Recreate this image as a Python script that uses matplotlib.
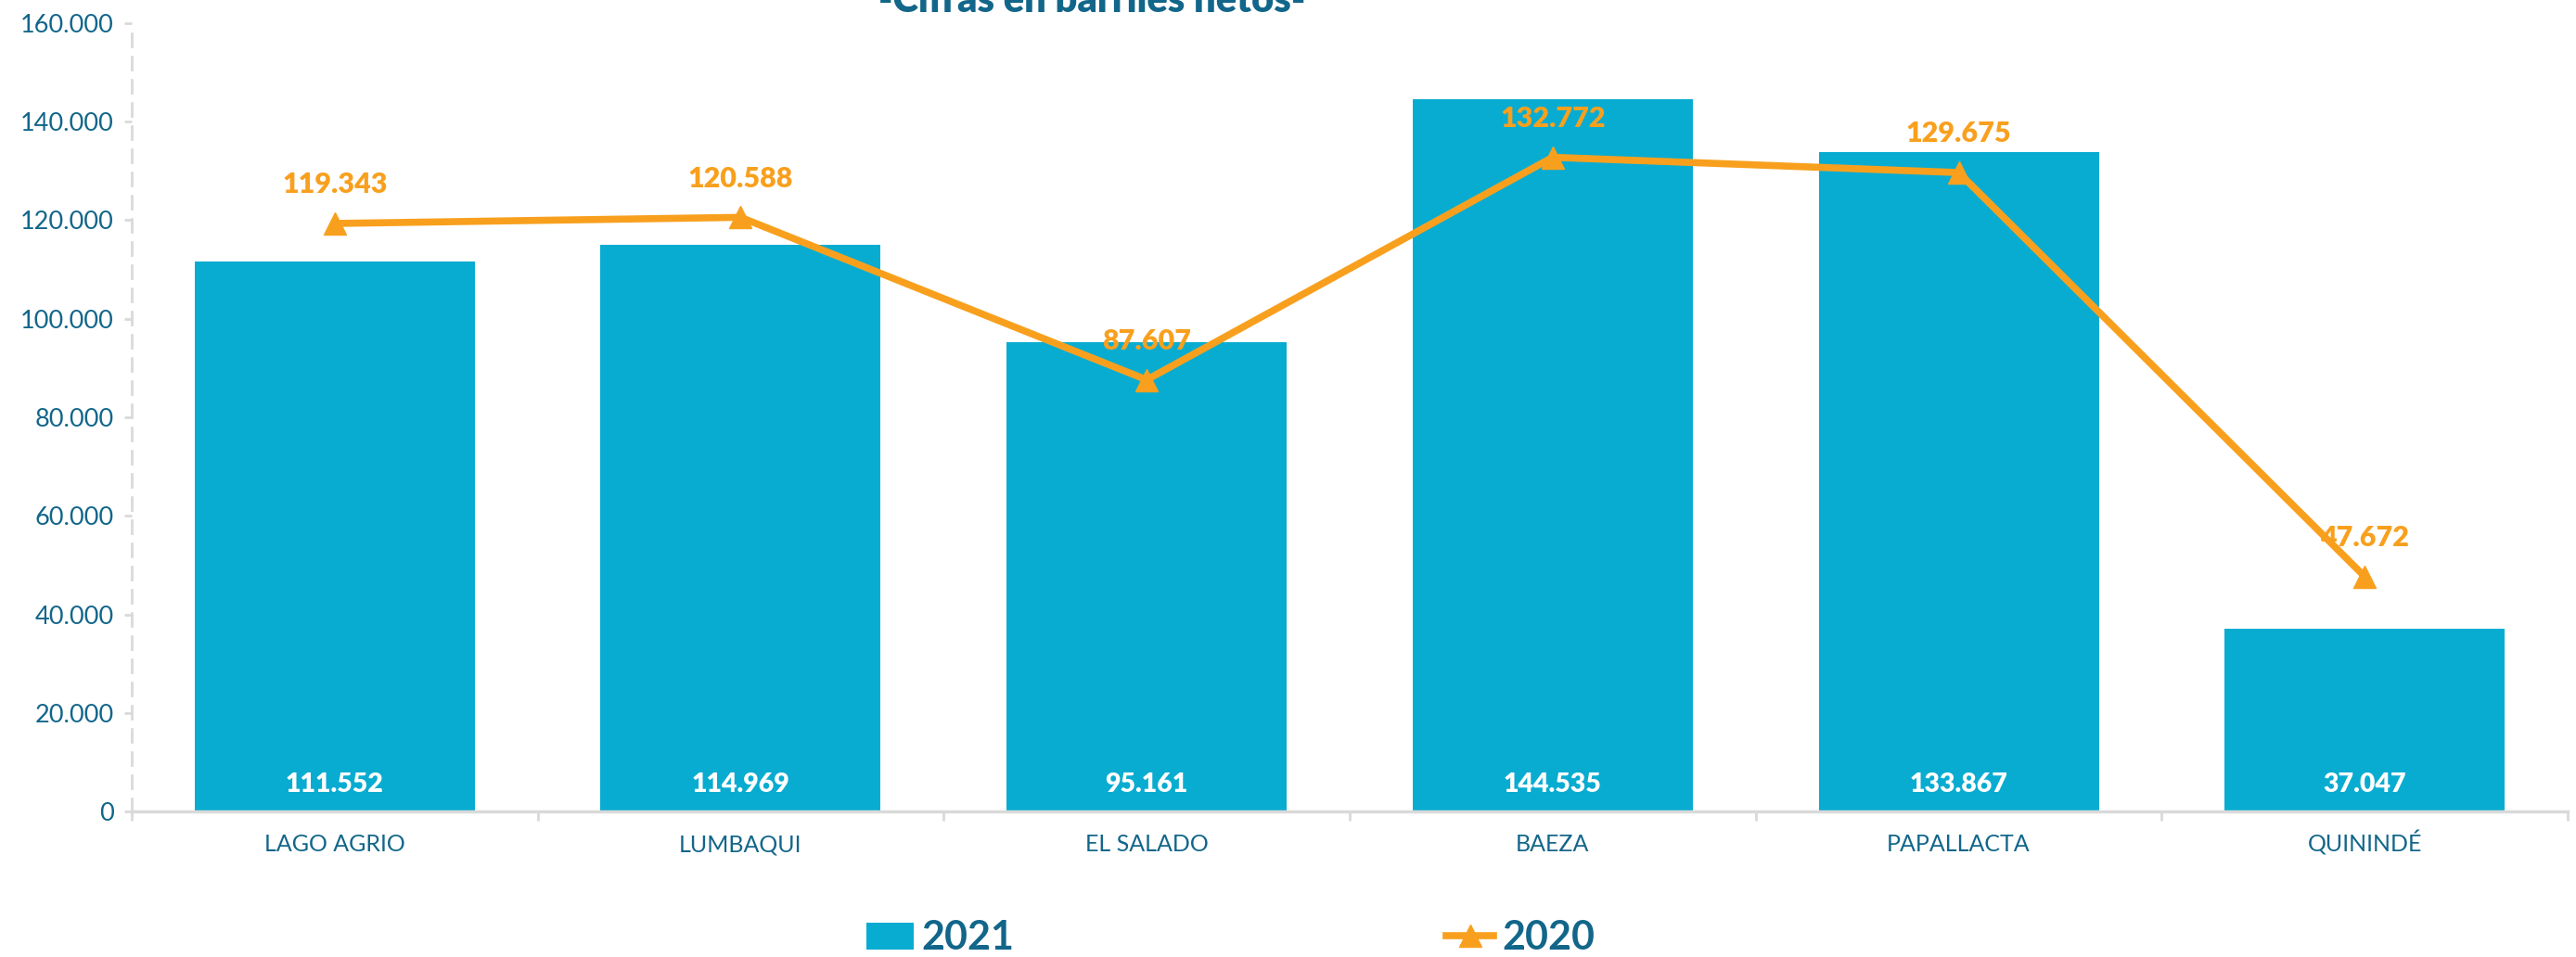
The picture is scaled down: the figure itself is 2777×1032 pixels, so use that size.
import matplotlib.pyplot as plt
from matplotlib.patches import Patch
from matplotlib.lines import Line2D
from matplotlib.ticker import FuncFormatter

categorias = ["LAGO AGRIO", "LUMBAQUI", "EL SALADO", "BAEZA", "PAPALLACTA", "QUININDÉ"]
v2021 = [111552, 114969, 95161, 144535, 133867, 37047]
v2020 = [119343, 120588, 87607, 132772, 129675, 47672]
titulo = "-Cifras en barriles netos-"

azul = "#09ACD1"
naranja = "#F8A01E"
texto = "#12668A"
gris = "#D9D9D9"

plt.rcParams['font.family'] = ['Lato', 'DejaVu Sans']


def miles(v, pos=None):
    return f"{int(round(v)):,}".replace(",", ".")


fig = plt.figure(figsize=(27.77, 10.32), dpi=100)
ax = fig.add_axes([0.0511, 0.1521, 0.9457, 0.8237])

x = list(range(len(categorias)))
ax.bar(x, v2021, width=0.69, color=azul, zorder=2)
ax.plot(x, v2020, color=naranja, linewidth=5.5, marker='^', markersize=17,
        markerfacecolor=naranja, markeredgecolor=naranja, zorder=3)

for i, v in enumerate(v2021):
    ax.annotate(miles(v), (i, 0), xytext=(0, 21), textcoords='offset points',
                ha='center', va='center', color='white', fontsize=20.5, fontweight='heavy', zorder=4)
for i, v in enumerate(v2020):
    ax.annotate(miles(v), (i, v), xytext=(0, 30), textcoords='offset points',
                ha='center', va='center', color=naranja, fontsize=22, fontweight='heavy', zorder=4)

ax.set_xlim(-0.5, len(categorias) - 0.5)
ax.set_ylim(0, 160000)
ax.set_yticks(range(0, 160001, 20000))
ax.yaxis.set_major_formatter(FuncFormatter(miles))
ax.set_xticks(x)
ax.set_xticklabels(categorias, va='baseline')
ax.set_xticks([i - 0.5 for i in range(len(categorias) + 1)], minor=True)
ax.tick_params(axis='x', which='major', length=0, pad=31, labelsize=18, labelcolor=texto)
ax.tick_params(axis='x', which='minor', length=7, width=2, color=gris)
ax.tick_params(axis='y', length=6, width=2, color=gris, pad=8, labelsize=19.5, labelcolor=texto)

for s in ['top', 'right']:
    ax.spines[s].set_visible(False)
ax.spines['bottom'].set_color(gris)
ax.spines['bottom'].set_linewidth(2.5)
ax.spines['bottom'].set_zorder(5)
ax.spines['left'].set_color(gris)
ax.spines['left'].set_linewidth(2)
ax.spines['left'].set_linestyle((0, (5, 4)))

# titulo recortado arriba, como en la imagen original
fig.text(0.424, 0.987, titulo, ha='center', va='baseline', fontsize=30,
         fontweight='heavy', color=texto)

handles = [Patch(facecolor=azul, edgecolor='none'),
           Line2D([0], [0], color=naranja, linewidth=5.5, marker='^', markersize=17)]
fig.legend(handles, ["2021", "2020"], loc='center', bbox_to_anchor=(0.4776, 0.02),
           ncol=2, frameon=False, handlelength=1.2, handleheight=0.67,
           handletextpad=0.2, columnspacing=10.8, labelcolor=texto,
           prop={'weight': 'bold', 'size': 31})

fig.savefig("out.png", dpi=100)
